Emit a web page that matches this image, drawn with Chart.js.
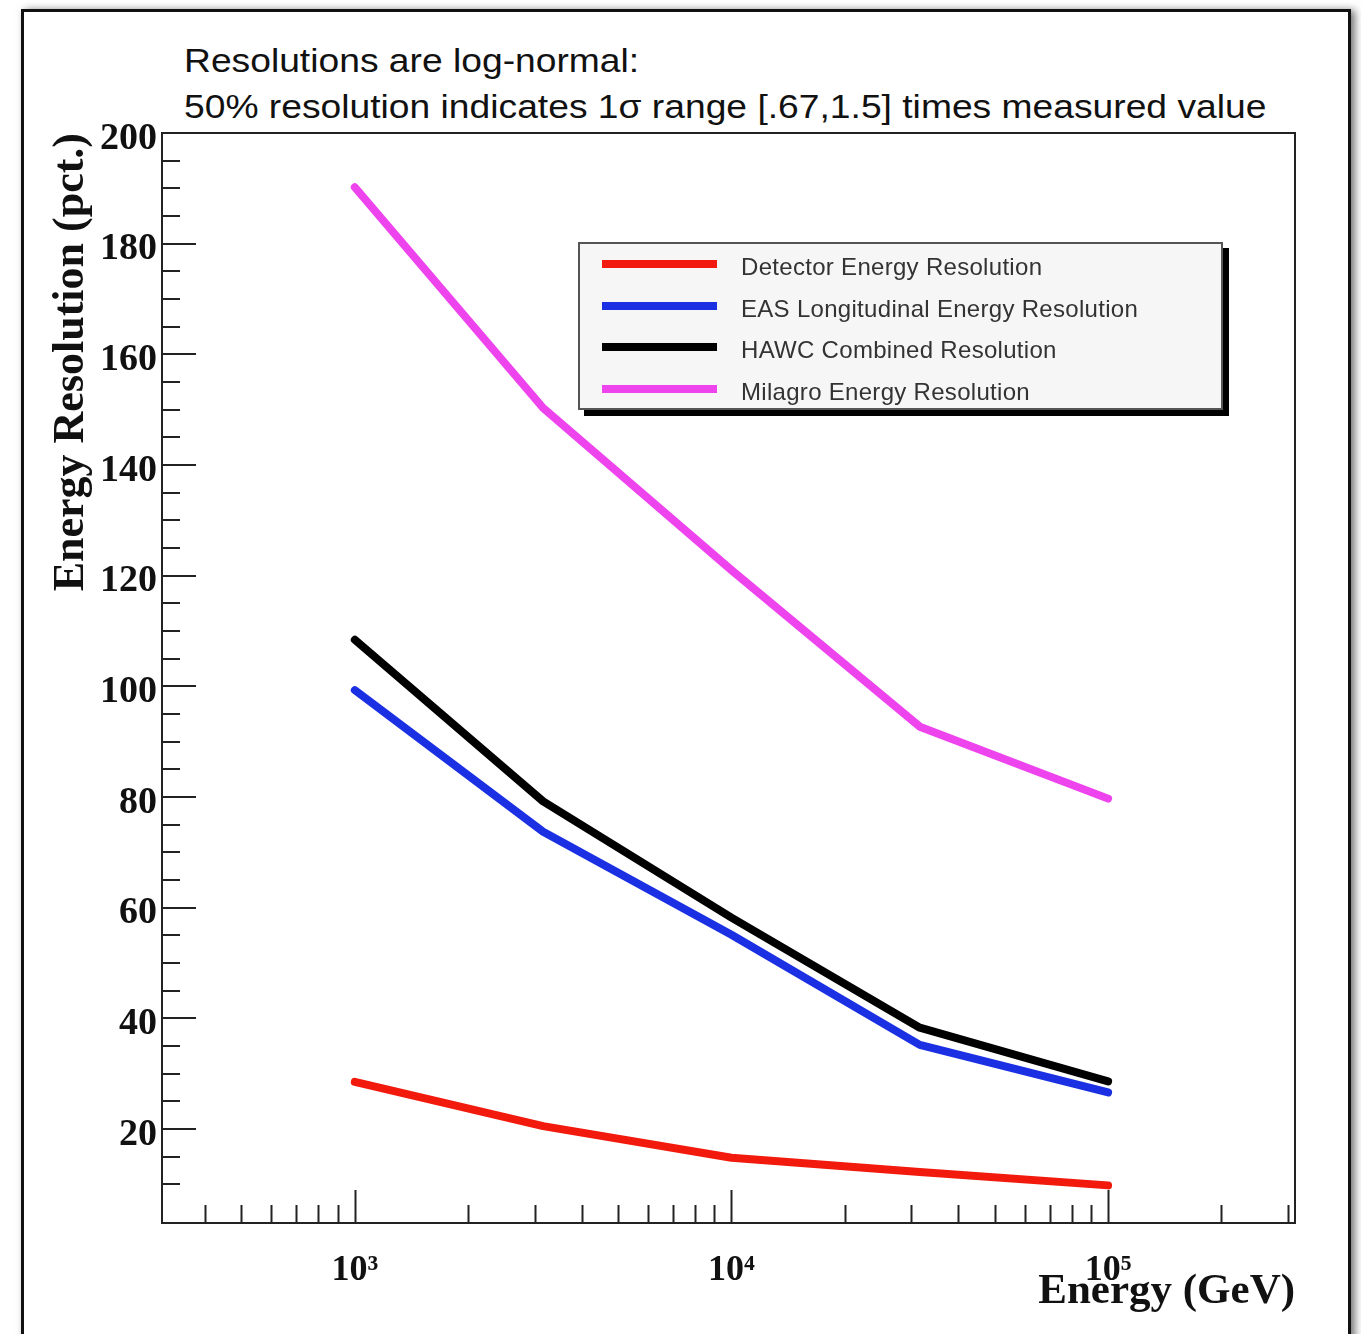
<!DOCTYPE html>
<html lang="en">
<head>
  <meta charset="UTF-8" />
  <title>Energy Resolution</title>
  <script src="https://cdn.jsdelivr.net/npm/chart.js"></script>
  <style>
    html, body { margin: 0; padding: 0; background: #fff; }
    body { width: 1361px; height: 1334px; position: relative; overflow: hidden; }
    #frame { position: absolute; left: 21px; top: 9px; width: 1324px; height: 1400px;
             border: 3px solid #111; box-shadow: 4px 1px 8px rgba(0,0,0,0.55); background: #fff; }
    #note { position: absolute; left: 184px; top: 38px; font: 33px "Liberation Sans", Arial, sans-serif;
            line-height: 46px; color: #111; white-space: nowrap;
            transform: scaleX(1.128); transform-origin: 0 0; }
    #chart { position: absolute; left: 0; top: 0; }
    #legend { position: absolute; left: 578px; top: 242px; width: 641px; height: 164px;
              border: 2px solid #555; background: #f6f6f6; box-shadow: 6px 6px 0 #000; }
    #legend .row { position: absolute; left: 0; height: 40px; width: 100%; }
    #legend .swatch { position: absolute; left: 22px; top: 16px; width: 115px; height: 8px; }
    #legend .txt { position: absolute; left: 161px; top: 9px; font: 24px "Liberation Sans", Arial, sans-serif;
                   letter-spacing: 0.3px; color: #333; white-space: nowrap; }
  </style>
</head>
<body>
  <div id="frame"></div>
  <div id="note">Resolutions are log-normal:<br>50% resolution indicates 1&sigma; range [.67,1.5] times measured value</div>
  <canvas id="chart" width="1361" height="1334"></canvas>
  <div id="legend"></div>

  <script>
    // Data
    const energies = [1000, 3162, 10000, 31623, 100000];
    const detectorRes = [28.5, 20.5, 14.8, 12.2, 9.8];
    const easRes      = [99.3, 73.7, 55.1, 35.2, 26.6];
    const hawcRes     = [108.4, 79.2, 58.2, 38.3, 28.6];
    const milagroRes  = [190.2, 150.3, 121, 92.7, 79.7];

    const seriesNames = ['Detector Energy Resolution', 'EAS Longitudinal Energy Resolution',
                         'HAWC Combined Resolution', 'Milagro Energy Resolution'];
    const seriesColors = ['#f21a0c', '#1b30e2', '#000000', '#ee44ee'];

    const xMajor = [1000, 10000, 100000];
    const xMajorLabels = ['10³', '10⁴', '10⁵'];
    const yMajor = [20, 40, 60, 80, 100, 120, 140, 160, 180, 200];

    const serif = '"Liberation Serif", "Times New Roman", serif';
    const pts = ys => energies.map((x, i) => ({ x, y: ys[i] }));

    // frame + inward ticks, ROOT style
    const rootAxes = {
      id: 'rootAxes',
      beforeDatasetsDraw(chart) {
        const { ctx, chartArea: a, scales: { x, y } } = chart;
        ctx.save();
        ctx.strokeStyle = '#222';
        ctx.lineWidth = 2;
        ctx.strokeRect(a.left, a.top, a.right - a.left, a.bottom - a.top);
        ctx.beginPath();
        x.ticks.forEach(t => {
          const v = t.value;
          if (v < x.min || v > x.max) return;
          const p = Math.pow(10, Math.floor(Math.log10(v) + 1e-9));
          const m = v / p;
          if (Math.abs(m - Math.round(m)) > 1e-6) return;
          const len = Math.round(m) === 1 ? 33 : 18;
          const px = Math.round(x.getPixelForValue(v)) + 0.5;
          ctx.moveTo(px, a.bottom); ctx.lineTo(px, a.bottom - len);
        });
        y.ticks.forEach(t => {
          const v = t.value;
          if (v % 5 !== 0 || v >= y.max) return;
          const len = yMajor.includes(v) ? 34 : 18;
          const py = Math.round(y.getPixelForValue(v));
          ctx.moveTo(a.left, py); ctx.lineTo(a.left + len, py);
        });
        ctx.stroke();
        ctx.restore();
      }
    };

    const chart = new Chart(document.getElementById('chart'), {
      type: 'line',
      data: {
        datasets: [detectorRes, easRes, hawcRes, milagroRes].map((ys, i) => ({
          label: seriesNames[i],
          data: pts(ys),
          borderColor: seriesColors[i],
          borderWidth: 8,
          borderCapStyle: 'round',
          borderJoinStyle: 'round',
          pointRadius: 0,
          tension: 0
        }))
      },
      options: {
        responsive: false,
        animation: false,
        layout: { padding: { left: 0, top: 133, right: 66, bottom: 0 } },
        plugins: { legend: { display: false }, tooltip: { enabled: false } },
        scales: {
          x: {
            type: 'logarithmic', min: 307.6, max: 313500,
            grid: { display: false }, border: { display: false },
            ticks: {
              autoSkip: false, maxRotation: 0, padding: 18, color: '#111',
              font: { family: serif, weight: 'bold', size: 36 },
              callback: v => {
                const i = xMajor.findIndex(m => Math.abs(m - v) / m < 1e-6);
                return i >= 0 ? xMajorLabels[i] : '';
              }
            },
            title: { display: true, text: 'Energy (GeV)', align: 'end', color: '#111',
                     font: { family: serif, weight: 'bold', size: 43 }, padding: { top: 0, bottom: 16 } },
            afterFit: s => { s.height = 111; }
          },
          y: {
            min: 3, max: 200,
            grid: { display: false, drawTicks: false }, border: { display: false },
            ticks: {
              stepSize: 5, autoSkip: false, padding: 5, color: '#111', labelOffset: 6,
              font: { family: serif, weight: 'bold', size: 38 },
              callback: v => yMajor.includes(v) ? String(v) : ''
            },
            title: { display: true, text: 'Energy Resolution (pct.)', align: 'end', color: '#111',
                     font: { family: serif, weight: 'bold', size: 44 }, padding: { top: 45, bottom: 0 } },
            afterFit: s => { s.width = 162; }
          }
        }
      },
      plugins: [rootAxes]
    });

    // legend box built from the datasets
    const legend = document.getElementById('legend');
    chart.data.datasets.forEach((d, i) => {
      const row = document.createElement('div');
      row.className = 'row';
      row.style.top = (i * 41.5) + 'px';
      row.innerHTML = `<div class="swatch" style="background:${d.borderColor}"></div><div class="txt">${d.label}</div>`;
      legend.appendChild(row);
    });
  </script>
</body>
</html>
